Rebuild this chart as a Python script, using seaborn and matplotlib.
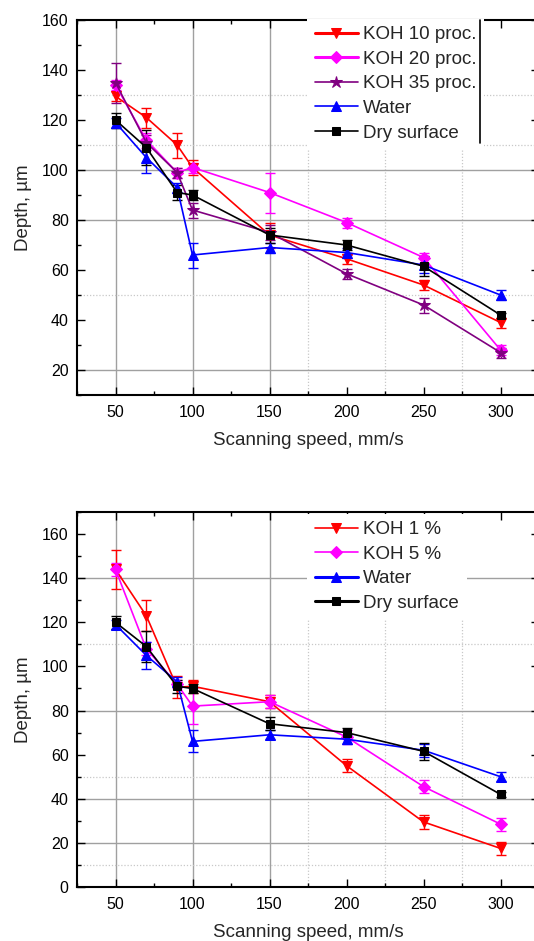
import matplotlib
matplotlib.use('Agg')
import matplotlib.pyplot as plt
from matplotlib.lines import Line2D
from matplotlib.ticker import MultipleLocator
import seaborn as sns

sns.set_theme(style='ticks')
plt.rcParams['font.family'] = ['Liberation Sans', 'DejaVu Sans']

# scanning speed, mm/s
speed = [50, 70, 90, 100, 150, 200, 250, 300]

# top panel (depth, um)
koh10 = [129.5, 121, 110, 101, 74, 64.5, 54, 39]
koh10_err = [2, 4, 5, 3, 5, 2, 2, 2]
koh20 = [134, 112, 99, 101, 91, 79, 65, 28]
koh20_err = [2, 3, 2, 2, 8, 2, 2, 2]
koh35 = [135, 111, 99, 84, 75, 58.5, 46, 27]
koh35_err = [8, 3, 2, 3, 3, 2, 3, 2]
water = [119, 105, 93, 66, 69, 67, 62, 50]
water_err = [2, 6, 2, 5, 2, 2, 3, 2]
dry = [120, 109, 91, 90, 74, 70, 61.5, 42]
dry_err = [3, 7, 3, 2, 3, 2, 4, 1]

# bottom panel
koh1 = [144, 123, 90.5, 91, 84, 55, 29.5, 17.5]
koh1_err = [9, 7, 5, 3, 3, 3, 3, 3]
koh5 = [144, 108, 92, 82, 84, 68, 45.5, 28.5]
koh5_err = [3, 3, 2, 8, 3, 3, 3, 3]

top_series = [
    ('KOH 10 proc.', koh10, koh10_err, '#FF0000', 'v', 7, 2.2),
    ('KOH 20 proc.', koh20, koh20_err, '#FF00FF', 'D', 6, 2.2),
    ('KOH 35 proc.', koh35, koh35_err, '#800080', '*', 9, 1.2),
    ('Water', water, water_err, '#0000FF', '^', 7, 1.2),
    ('Dry surface', dry, dry_err, '#000000', 's', 6, 1.2),
]
bottom_series = [
    ('KOH 1 %', koh1, koh1_err, '#FF0000', 'v', 7, 1.2),
    ('KOH 5 %', koh5, koh5_err, '#FF00FF', 'D', 6, 1.2),
    ('Water', water, water_err, '#0000FF', '^', 7, 2.2),
    ('Dry surface', dry, dry_err, '#000000', 's', 6, 2.2),
]

# grid lines as they appear in the original
grid_x_solid = [50, 100, 150]
grid_x_dot = [175, 225, 275]
top_grid_y_solid = [20, 80, 100]
top_grid_y_dot = [50, 110, 130]
bot_grid_y_solid = [20, 40, 80, 140]
bot_grid_y_dot = [10, 50, 110]

W, H = 534, 941
fig = plt.figure(figsize=(W / 100, H / 100), dpi=100)
ax1 = fig.add_axes([77 / W, (H - 395) / H, 462 / W, 375 / H])
ax2 = fig.add_axes([77 / W, (H - 887) / H, 462 / W, 375 / H])


def draw_panel(ax, series, ylim, ysolid, ydot, leg_y):
    for xv in grid_x_solid:
        ax.axvline(xv, color='#a0a0a0', lw=1.0, zorder=0)
    for xv in grid_x_dot:
        ax.axvline(xv, color='#c8c8c8', lw=0.9, ls=(0, (1, 1.5)), zorder=0)
    for yv in ysolid:
        ax.axhline(yv, color='#a0a0a0', lw=1.0, zorder=0)
    for yv in ydot:
        ax.axhline(yv, color='#c8c8c8', lw=0.9, ls=(0, (1, 1.5)), zorder=0)

    for name, vals, err, c, m, ms, _ in series:
        ax.errorbar(speed, vals, yerr=err, fmt='none', ecolor=c,
                    elinewidth=1, capsize=3.5, capthick=1, zorder=2)
        sns.lineplot(x=speed, y=vals, color=c, marker=m, markersize=ms,
                     markeredgecolor=c, linewidth=1.2, label=name, ax=ax,
                     zorder=3)

    ax.set_xlim(25, 325)
    ax.set_ylim(*ylim)
    ax.xaxis.set_major_locator(MultipleLocator(50))
    ax.xaxis.set_minor_locator(MultipleLocator(25))
    ax.yaxis.set_major_locator(MultipleLocator(20))
    ax.yaxis.set_minor_locator(MultipleLocator(10))
    ax.tick_params(which='both', direction='in', top=True, right=True,
                   width=1, colors='black', labelsize=11.5)
    ax.tick_params(which='major', length=6)
    ax.tick_params(which='minor', length=3)
    ax.tick_params(axis='x', pad=7)
    ax.tick_params(axis='y', pad=6)
    for s in ax.spines.values():
        s.set_linewidth(1.5)
        s.set_color('black')

    ax.set_xlabel('Scanning speed, mm/s', fontsize=13.5, labelpad=9)
    ax.set_ylabel('Depth, µm', fontsize=13.5, labelpad=7)

    handles, labels = ax.get_legend_handles_labels()
    leg = ax.legend(handles, labels, loc='upper left',
                    bbox_to_anchor=(0.498, leg_y), borderaxespad=0,
                    fontsize=13.5, frameon=True, facecolor='white',
                    edgecolor='none', framealpha=1, fancybox=False,
                    borderpad=0.4, labelspacing=0.4, handlelength=2.3,
                    handletextpad=0.3)
    for line, s in zip(leg.get_lines(), series):
        line.set_linewidth(s[6])
    return leg


draw_panel(ax1, top_series, (10, 160), top_grid_y_solid, top_grid_y_dot, 1.004)
draw_panel(ax2, bottom_series, (0, 170), bot_grid_y_solid, bot_grid_y_dot, 0.996)

# right edge of the top legend box shows as a black line
ax1.add_line(Line2D([0.872, 0.872], [0.672, 1.0], transform=ax1.transAxes,
                    color='black', lw=1.2, zorder=6, clip_on=False))

fig.savefig('out.png', dpi=100)
